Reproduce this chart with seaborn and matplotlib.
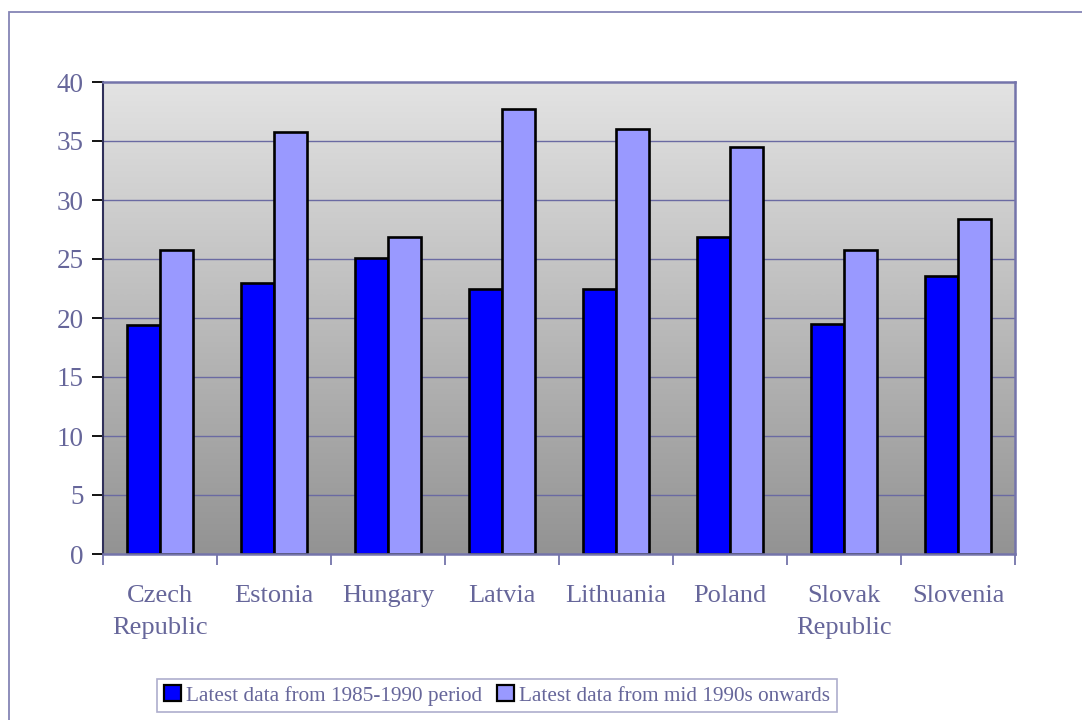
import numpy as np
import pandas as pd
import matplotlib
matplotlib.use("Agg")
import matplotlib.pyplot as plt
from matplotlib.patches import Patch, Rectangle
import seaborn as sns

# Data
countries = ["Czech\nRepublic", "Estonia", "Hungary", "Latvia",
             "Lithuania", "Poland", "Slovak\nRepublic", "Slovenia"]
period_labels = ["Latest data from 1985-1990 period",
                 "Latest data from mid 1990s onwards"]
values_1985_1990 = [19.4, 23.0, 25.1, 22.5, 22.5, 26.9, 19.5, 23.6]
values_mid_1990s = [25.8, 35.8, 26.9, 37.7, 36.0, 34.5, 25.8, 28.4]
y_ticks = [0, 5, 10, 15, 20, 25, 30, 35, 40]

df = pd.DataFrame({
    "country": countries * 2,
    "value": values_1985_1990 + values_mid_1990s,
    "period": [period_labels[0]] * len(countries) + [period_labels[1]] * len(countries),
})

sns.set_theme(style="white")
plt.rcParams["font.family"] = ["Liberation Serif", "DejaVu Serif"]

text_color = "#66669a"
grid_color = "#6a6aa2"
colors = ["#0000ff", "#9999ff"]

fig = plt.figure(figsize=(10.82, 7.2), dpi=100)
fig.patch.set_facecolor("white")

# Outer frame around the chart area
fig.add_artist(Rectangle((9 / 1082, -0.1), 1.2, 1 - 12 / 720 + 0.1,
                         transform=fig.transFigure, fill=False,
                         edgecolor="#8585b5", linewidth=1.3))

ax = fig.add_axes([103 / 1082, 1 - 554 / 720, (1015 - 103) / 1082, (554 - 82) / 720])

sns.barplot(data=df, x="country", y="value", hue="period", order=countries,
            hue_order=period_labels, palette=colors, saturation=1,
            width=0.58, edgecolor="black", linewidth=1.9, legend=False,
            ax=ax, zorder=3)

n = len(countries)
ax.set_xlim(-0.5, n - 0.5)
ax.set_ylim(0, 40)

# Vertical gray gradient background
grad = np.linspace(0, 1, 256).reshape(-1, 1)
cmap = matplotlib.colors.LinearSegmentedColormap.from_list("bg", ["#939393", "#e3e3e3"])
ax.imshow(grad, extent=[-0.5, n - 0.5, 0, 40], origin="lower", aspect="auto",
          cmap=cmap, zorder=0, interpolation="bilinear")

ax.set_yticks(y_ticks)
for y in y_ticks[1:-1]:
    ax.axhline(y, color=grid_color, linewidth=1.0, zorder=1)

ax.set_xlabel("")
ax.set_ylabel("")

# Axis styling
for side in ["top", "right", "bottom"]:
    ax.spines[side].set_color("#7474aa")
    ax.spines[side].set_linewidth(1.8)
ax.spines["left"].set_color("#30305a")
ax.spines["left"].set_linewidth(1.5)
for s in ax.spines.values():
    s.set_zorder(4)

ax.tick_params(axis="y", which="major", direction="out", length=8, width=1.3,
               color="black", labelcolor=text_color, labelsize=19.5, pad=6, left=True)
ax.set_xticks(range(n))
ax.set_xticklabels(countries, linespacing=1.6)
ax.set_xticks(np.arange(-0.5, n, 1.0), minor=True)
ax.tick_params(axis="x", which="major", length=0, labelcolor=text_color,
               labelsize=19, pad=22)
ax.tick_params(axis="x", which="minor", direction="out", length=8, width=1.3,
               color="#7474aa", bottom=True)

handles = [Patch(facecolor=c, edgecolor="black", linewidth=1.6) for c in colors]
leg = fig.legend(handles, period_labels, loc="lower center",
                 bbox_to_anchor=(497 / 1082, 8 / 720), ncol=2, frameon=True,
                 fancybox=False, edgecolor="#9a9ac0", fontsize=15.3,
                 handlelength=0.8, handleheight=0.8, handletextpad=0.25,
                 columnspacing=0.7, borderpad=0.3, borderaxespad=0)
leg.get_frame().set_linewidth(1.2)
for t in leg.get_texts():
    t.set_color(text_color)

fig.savefig("out.png", dpi=100, facecolor="white")
